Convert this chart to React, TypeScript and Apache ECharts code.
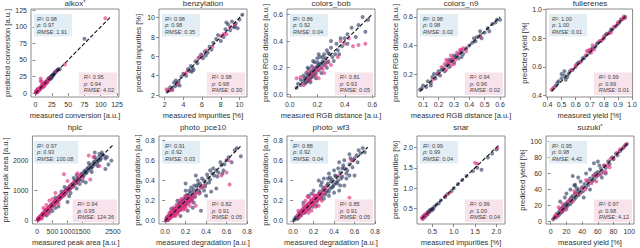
import React, { useEffect, useRef } from "react";
import * as echarts from "echarts";

type Pt = [number, number];

const FONT = "'Liberation Sans', Arial, sans-serif";
const COL_LEFT = [31, 159, 287, 417, 546];
const ROW_TOP = [9, 136];
const TITLE_TOP = [-1, 123];
const PW = 88;
const PH = 88;

// ---------- data ----------
const titles = ["alkox", "benzylation", "colors_bob", "colors_n9", "fullerenes", "hplc", "photo_pce10", "photo_wf3", "snar", "suzuki"];
const titleStar = [true, false, false, false, false, false, false, false, false, true];
const xNames = [
  "measured conversion [a.u.]", "measured impurities [%]", "measured RGB distance [a.u.]", "measured RGB distance [a.u.]", "measured yield [%]",
  "measured peak area [a.u.]", "measured degradation [a.u.]", "measured degradation [a.u.]", "measured impurities [%]", "measured yield [%]",
];
const yNames = [
  "predicted conversion [a.u.]", "predicted impurities [%]", "predicted RGB distance [a.u.]", "predicted RGB distance [a.u.]", "predicted yield [%]",
  "predicted peak area [a.u.]", "predicted degradation [a.u.]", "predicted degradation [a.u.]", "predicted impurities [%]", "predicted yield [%]",
];
const xRanges: Pt[] = [[-7, 128], [1.4, 10.8], [-0.02, 0.62], [0.06, 0.632], [0.39, 1.003], [-160, 2700], [-0.06, 0.8], [-0.06, 0.8], [0.14, 2.2], [-6, 106]];
const yRanges: Pt[] = [[-6, 127], [1.8, 10.9], [-0.02, 0.64], [0.04, 0.655], [0.39, 1.003], [-130, 2800], [-0.03, 0.84], [-0.03, 0.84], [0.12, 2.28], [-3, 107]];
const xTicks: number[][] = [
  [0, 25, 50, 75, 100, 125], [2, 4, 6, 8, 10], [0, 0.2, 0.4, 0.6], [0.1, 0.2, 0.3, 0.4, 0.5, 0.6], [0.4, 0.5, 0.6, 0.7, 0.8, 0.9, 1.0],
  [0, 500, 1000, 1500, 2000, 2500], [0, 0.2, 0.4, 0.6, 0.8], [0, 0.2, 0.4, 0.6, 0.8], [0.5, 1.0, 1.5, 2.0], [0, 20, 40, 60, 80, 100],
];
const yTicks: number[][] = [
  [0, 25, 50, 75, 100, 125], [2, 4, 6, 8, 10], [0, 0.2, 0.4, 0.6], [0.2, 0.4, 0.6], [0.4, 0.6, 0.8, 1.0],
  [0, 1000, 2000], [0, 0.2, 0.4, 0.6, 0.8], [0, 0.2, 0.4, 0.6, 0.8], [0.5, 1.0, 1.5, 2.0], [0, 20, 40, 60, 80, 100],
];
const tickDecimals = [0, 0, 1, 1, 1, 0, 1, 1, 1, 0];
const diagonals: Pt[] = [[0, 115], [2.2, 10.3], [0.04, 0.6], [0.08, 0.6], [0.43, 0.95], [0, 2500], [0, 0.75], [0, 0.73], [0.25, 2.05], [3, 98]];

// [R², rho, RMSE]
const trainStats: number[][] = [
  [0.98, 0.97, 1.91], [0.98, 0.98, 0.35], [0.86, 0.92, 0.04], [0.98, 0.98, 0.02], [1.0, 1.0, 0.01],
  [0.97, 0.93, 100.08], [0.91, 0.92, 0.03], [0.88, 0.92, 0.04], [0.99, 0.99, 0.04], [0.95, 0.98, 4.42],
];
const testStats: number[][] = [
  [0.95, 0.94, 4.02], [0.98, 0.98, 0.3], [0.81, 0.93, 0.05], [0.94, 0.96, 0.02], [0.99, 0.99, 0.01],
  [0.94, 0.95, 124.36], [0.82, 0.91, 0.05], [0.85, 0.91, 0.05], [0.99, 1.0, 0.04], [0.97, 0.98, 4.12],
];

const alkoxTrain: Pt[] = [[1,2],[2,1],[3,3],[4,5],[5,4],[6,6],[7,8],[8,7],[10,10],[11,12],[12,11],[14,15],[15,14],[16,17],[18,17],[19,20],[20,22],[22,21],[23,24],[25,26],[26,25],[28,28],[30,31],[33,34],[37,36],[75,82],[2,4],[9,9],[13,13],[17,16],[21,23],[24,22],[1,1],[3,4],[5,5],[6,7],[8,8],[10,11],[12,12],[13,14],[15,16],[17,18],[19,19],[21,21],[23,23],[24,25],[26,27],[27,28],[29,30],[31,32],[34,35],[35,36]];
const alkoxTest: Pt[] = [[0.5,1],[1,3],[2,2],[3,1],[4,4],[5,6],[6,5],[7,7],[8,22],[9,17],[10,12],[11,9],[12,14],[13,10],[15,16],[17,15],[19,18],[30,32],[45,43],[107,113],[8,18],[3,6],[14,12],[1,1],[2,3],[4,3],[5,5],[6,7],[7,6],[9,10],[10,9],[12,12],[14,14],[16,15],[18,19],[20,20],[22,23]];

const benzTrain: Pt[] = [[2.3,2.4],[2.6,2.8],[2.8,2.6],[3.0,3.3],[3.1,2.9],[3.2,3.5],[3.3,3.1],[3.5,3.4],[3.8,3.9],[4.0,4.2],[4.3,4.0],[4.5,4.7],[4.7,4.5],[4.8,5.0],[5.0,4.8],[5.1,4.6],[5.3,5.5],[5.5,5.3],[5.7,5.9],[5.9,6.2],[6.1,5.8],[6.3,6.5],[6.4,6.1],[6.6,6.4],[6.8,7.0],[7.0,6.7],[7.2,7.4],[7.5,7.8],[7.7,8.2],[8.0,7.6],[8.3,8.0],[8.5,8.8],[8.8,9.3],[9.0,8.7],[9.2,9.6],[9.4,9.0],[9.6,9.4],[9.8,8.9],[10.0,9.8],[10.3,10.3],[8.6,9.5],[9.5,9.1],[3.6,3.0],[2.5,2.5],[4.9,4.4]];
const benzTest: Pt[] = [[2.2,2.6],[2.4,2.5],[2.8,2.5],[3.4,3.2],[4.1,4.2],[4.4,4.4],[5.6,5.8],[6.0,6.1],[6.5,6.6],[7.1,7.0],[8.0,8.1],[8.3,8.3],[8.6,8.3],[9.0,9.0],[9.5,9.3]];

const bobTrain: Pt[] = [[0.05,0.05],[0.06,0.08],[0.08,0.07],[0.1,0.1],[0.1,0.14],[0.11,0.08],[0.12,0.12],[0.12,0.16],[0.13,0.1],[0.14,0.15],[0.14,0.19],[0.15,0.12],[0.16,0.17],[0.16,0.21],[0.17,0.14],[0.18,0.19],[0.18,0.24],[0.19,0.16],[0.2,0.21],[0.2,0.27],[0.21,0.18],[0.22,0.23],[0.22,0.28],[0.23,0.2],[0.24,0.25],[0.25,0.3],[0.25,0.22],[0.26,0.27],[0.27,0.33],[0.28,0.24],[0.29,0.3],[0.3,0.35],[0.31,0.28],[0.33,0.3],[0.34,0.38],[0.35,0.33],[0.37,0.42],[0.38,0.36],[0.4,0.42],[0.42,0.45],[0.42,0.38],[0.45,0.5],[0.48,0.43],[0.5,0.52],[0.53,0.58],[0.55,0.47],[0.57,0.56],[0.08,0.11],[0.13,0.2],[0.17,0.25],[0.21,0.3],[0.15,0.09],[0.19,0.12],[0.23,0.16],[0.27,0.2],[0.32,0.25],[0.3,0.4],[0.36,0.3],[0.11,0.12],[0.13,0.14],[0.15,0.16],[0.17,0.18],[0.19,0.2],[0.21,0.22],[0.23,0.23],[0.16,0.13],[0.18,0.15],[0.2,0.24],[0.24,0.28],[0.26,0.24],[0.28,0.31],[0.14,0.11],[0.12,0.09]];
const bobTest: Pt[] = [[0.05,0.12],[0.08,0.13],[0.12,0.11],[0.14,0.13],[0.16,0.15],[0.18,0.17],[0.2,0.18],[0.22,0.2],[0.24,0.19],[0.26,0.22],[0.15,0.1],[0.17,0.2],[0.19,0.14],[0.13,0.17],[0.28,0.25],[0.3,0.22],[0.35,0.28],[0.4,0.38],[0.43,0.42],[0.46,0.36],[0.5,0.37],[0.55,0.38],[0.37,0.4],[0.21,0.12],[0.1,0.07],[0.25,0.16]];

const n9Train: Pt[] = [[0.08,0.09],[0.09,0.1],[0.1,0.12],[0.12,0.11],[0.13,0.15],[0.15,0.14],[0.16,0.18],[0.18,0.17],[0.19,0.2],[0.2,0.22],[0.21,0.19],[0.22,0.23],[0.23,0.24],[0.24,0.22],[0.25,0.26],[0.26,0.27],[0.27,0.25],[0.28,0.29],[0.29,0.3],[0.3,0.28],[0.31,0.32],[0.32,0.33],[0.33,0.31],[0.34,0.35],[0.35,0.36],[0.36,0.34],[0.38,0.38],[0.4,0.4],[0.42,0.42],[0.44,0.43],[0.45,0.46],[0.47,0.47],[0.48,0.45],[0.5,0.49],[0.52,0.52],[0.53,0.5],[0.55,0.55],[0.57,0.56],[0.58,0.58],[0.6,0.58],[0.15,0.12],[0.27,0.3],[0.35,0.32],[0.3,0.33],[0.47,0.5],[0.43,0.45],[0.17,0.2]];
const n9Test: Pt[] = [[0.16,0.16],[0.2,0.2],[0.22,0.25],[0.24,0.27],[0.25,0.23],[0.26,0.29],[0.27,0.28],[0.28,0.26],[0.29,0.31],[0.3,0.27],[0.31,0.3],[0.32,0.35],[0.33,0.34],[0.34,0.37],[0.35,0.37],[0.36,0.38],[0.38,0.36],[0.47,0.46],[0.25,0.3],[0.28,0.33]];

const fullTrain: Pt[] = [[0.44,0.45],[0.46,0.47],[0.48,0.5],[0.5,0.52],[0.52,0.54],[0.5,0.55],[0.53,0.51],[0.55,0.55],[0.56,0.57],[0.58,0.58],[0.6,0.6],[0.61,0.62],[0.62,0.63],[0.64,0.64],[0.65,0.66],[0.66,0.66],[0.68,0.68],[0.7,0.7],[0.71,0.72],[0.72,0.73],[0.74,0.74],[0.75,0.76],[0.76,0.77],[0.78,0.78],[0.8,0.8],[0.81,0.82],[0.82,0.83],[0.84,0.84],[0.85,0.86],[0.86,0.86],[0.88,0.88],[0.9,0.9],[0.91,0.91],[0.92,0.93],[0.94,0.94],[0.95,0.95],[0.52,0.57],[0.54,0.53],[0.47,0.49]];
const fullTest: Pt[] = [[0.43,0.44],[0.45,0.46],[0.57,0.58],[0.6,0.61],[0.63,0.63],[0.67,0.68],[0.69,0.71],[0.7,0.72],[0.71,0.7],[0.73,0.72],[0.77,0.78],[0.79,0.79],[0.8,0.81],[0.83,0.83],[0.85,0.84],[0.87,0.88],[0.89,0.89],[0.9,0.91],[0.93,0.93],[0.94,0.95],[0.95,0.94],[0.68,0.71],[0.72,0.75]];

const hplcTrain: Pt[] = [[20,30],[40,10],[60,80],[80,50],[100,120],[120,90],[150,160],[170,200],[200,180],[230,250],[250,210],[280,300],[300,330],[330,290],[360,380],[400,420],[420,380],[450,500],[480,460],[500,540],[530,490],[560,600],[600,580],[630,680],[660,620],[700,740],[730,700],[760,820],[800,780],[830,870],[870,840],[900,960],[940,900],[980,1040],[1020,980],[1060,1120],[1100,1060],[1150,1200],[1200,1150],[1250,1320],[1300,1260],[1350,1400],[1400,1360],[1450,1520],[1500,1460],[1550,1620],[1600,1560],[1650,1700],[1700,1660],[1750,1830],[1800,1760],[1850,1900],[1900,1850],[1950,2020],[2000,1960],[2050,2100],[2100,2050],[2150,2180],[2200,2150],[1900,2250],[2350,1850],[2450,1980],[2250,1700],[1600,1250],[1300,1050],[1050,800],[700,450],[500,300],[2050,2200],[1700,1900],[1200,1400],[900,1100],[1000,600],[1400,1200],[800,950],[2250,2050],[600,750],[300,150],[1400,600],[50,60],[90,100],[140,120],[180,220],[210,190],[260,280],[310,350],[340,310],[380,420],[440,420],[470,520],[520,560],[580,540],[620,660],[680,650],[720,780],[780,740],[820,880],[880,830],[950,1000],[1000,1050],[1080,1040],[1130,1180],[1180,1120],[1230,1280],[1280,1230],[1330,1380],[1380,1330],[1480,1550],[1530,1480],[1580,1650],[1630,1580],[1680,1750],[1780,1720],[1830,1800],[1880,1950],[1980,1920],[2080,2000],[2130,2250],[2300,2100],[1100,900],[1500,1300],[1800,1600],[2000,1800],[600,400],[400,250],[1300,1500],[1900,2100]];
const hplcTest: Pt[] = [[10,20],[30,60],[50,30],[70,100],[90,70],[110,140],[130,110],[160,190],[190,160],[220,260],[260,230],[290,330],[320,280],[350,400],[390,360],[430,470],[470,430],[510,560],[550,520],[590,640],[640,600],[690,740],[740,700],[790,850],[850,800],[900,950],[950,900],[1000,1060],[1050,1000],[1100,1150],[1150,1100],[1200,1260],[1300,1350],[1400,1450],[1500,1400],[200,400],[400,650],[600,900],[300,500],[880,1530],[1330,1560],[1750,1350],[1700,2150],[2050,1800],[1850,2100],[1000,1300],[150,50],[700,550],[20,10],[40,50],[60,40],[80,90],[100,80],[120,130],[140,150],[170,150],[200,220],[240,200],[270,300],[310,300],[340,370],[370,340],[410,440],[450,420],[490,530],[530,500],[570,610],[620,580],[670,700],[720,690],[770,800],[820,790],[870,920],[930,880],[980,1020],[1250,1200],[1350,1300],[1450,1500],[250,350],[500,700],[350,200]];

const pceTrain: Pt[] = [[0.01,0.01],[0.02,0.04],[0.03,0.02],[0.04,0.06],[0.05,0.03],[0.06,0.07],[0.07,0.05],[0.08,0.1],[0.09,0.08],[0.1,0.12],[0.11,0.09],[0.12,0.14],[0.13,0.11],[0.14,0.16],[0.15,0.13],[0.16,0.18],[0.17,0.15],[0.18,0.2],[0.19,0.17],[0.2,0.22],[0.21,0.19],[0.22,0.25],[0.23,0.21],[0.24,0.27],[0.25,0.23],[0.26,0.29],[0.27,0.25],[0.28,0.31],[0.3,0.28],[0.31,0.34],[0.33,0.3],[0.34,0.37],[0.36,0.33],[0.38,0.4],[0.4,0.37],[0.42,0.43],[0.44,0.41],[0.46,0.47],[0.48,0.45],[0.5,0.5],[0.52,0.48],[0.55,0.55],[0.58,0.56],[0.62,0.63],[0.74,0.64],[0.68,0.7],[0.35,0.1],[0.5,0.32],[0.2,0.37],[0.45,0.29],[0.3,0.45],[0.2,0.3],[0.15,0.05],[0.4,0.25],[0.12,0.2],[0.06,0.12],[0.28,0.18],[0.38,0.3],[0.56,0.47],[0.22,0.1],[0.32,0.4],[0.44,0.5],[0.015,0.03],[0.03,0.01],[0.045,0.05],[0.055,0.08],[0.075,0.07],[0.085,0.12],[0.095,0.06],[0.105,0.1],[0.115,0.14],[0.125,0.09],[0.135,0.17],[0.145,0.11],[0.155,0.19],[0.165,0.13],[0.175,0.21],[0.185,0.14],[0.195,0.24],[0.205,0.16],[0.215,0.26],[0.225,0.18],[0.235,0.3],[0.245,0.2],[0.255,0.33],[0.265,0.21],[0.285,0.35],[0.295,0.24],[0.32,0.36],[0.34,0.28],[0.36,0.42],[0.39,0.34],[0.41,0.46],[0.43,0.38],[0.47,0.52],[0.51,0.44],[0.54,0.58],[0.57,0.5],[0.6,0.6],[0.65,0.58],[0.7,0.72],[0.27,0.13]];
const pceTest: Pt[] = [[0.01,0.02],[0.02,0.01],[0.03,0.05],[0.04,0.03],[0.05,0.06],[0.06,0.04],[0.07,0.08],[0.08,0.06],[0.09,0.1],[0.1,0.08],[0.11,0.12],[0.12,0.1],[0.13,0.14],[0.14,0.12],[0.15,0.16],[0.16,0.14],[0.17,0.18],[0.18,0.16],[0.19,0.2],[0.2,0.17],[0.21,0.22],[0.22,0.2],[0.23,0.24],[0.25,0.22],[0.27,0.26],[0.29,0.27],[0.31,0.3],[0.06,0.1],[0.1,0.05],[0.14,0.2],[0.18,0.11],[0.24,0.15],[0.3,0.15],[0.63,0.36],[0.6,0.48],[0.62,0.6],[0.55,0.45],[0.04,0.08],[0.12,0.07],[0.2,0.25],[0.35,0.33],[0.16,0.22],[0.08,0.13],[0.015,0.005],[0.025,0.03],[0.035,0.02],[0.045,0.05],[0.055,0.04],[0.065,0.07],[0.075,0.05],[0.085,0.09],[0.095,0.07],[0.105,0.11],[0.115,0.08],[0.125,0.13],[0.135,0.1],[0.145,0.15],[0.155,0.11],[0.165,0.17],[0.175,0.13],[0.185,0.19],[0.195,0.14],[0.215,0.18],[0.235,0.21],[0.255,0.24],[0.275,0.23],[0.11,0.16],[0.2,0.12],[0.26,0.19],[0.33,0.27],[0.38,0.35]];

const wf3Train: Pt[] = [[0.01,0.01],[0.03,0.04],[0.05,0.03],[0.06,0.08],[0.08,0.06],[0.1,0.12],[0.12,0.09],[0.14,0.16],[0.16,0.13],[0.18,0.2],[0.2,0.17],[0.22,0.25],[0.24,0.21],[0.26,0.29],[0.28,0.25],[0.3,0.33],[0.32,0.28],[0.34,0.37],[0.36,0.32],[0.38,0.41],[0.4,0.36],[0.42,0.44],[0.44,0.4],[0.46,0.48],[0.48,0.44],[0.5,0.52],[0.52,0.47],[0.55,0.56],[0.58,0.53],[0.6,0.62],[0.63,0.58],[0.66,0.67],[0.68,0.72],[0.7,0.68],[0.25,0.4],[0.3,0.42],[0.35,0.47],[0.4,0.5],[0.45,0.58],[0.5,0.6],[0.55,0.66],[0.2,0.3],[0.15,0.25],[0.35,0.25],[0.45,0.3],[0.5,0.35],[0.6,0.45],[0.4,0.28],[0.28,0.38],[0.33,0.3],[0.42,0.38],[0.48,0.52],[0.38,0.33],[0.23,0.15],[0.1,0.18],[0.3,0.22],[0.52,0.42],[0.58,0.6],[0.62,0.65],[0.18,0.27],[0.36,0.43],[0.02,0.03],[0.04,0.02],[0.07,0.07],[0.09,0.1],[0.11,0.08],[0.13,0.14],[0.15,0.11],[0.17,0.18],[0.19,0.14],[0.21,0.22],[0.23,0.19],[0.25,0.27],[0.27,0.22],[0.29,0.31],[0.31,0.26],[0.33,0.35],[0.35,0.29],[0.37,0.39],[0.39,0.34],[0.41,0.45],[0.43,0.37],[0.47,0.42],[0.49,0.55],[0.53,0.5],[0.56,0.62],[0.64,0.7],[0.44,0.52],[0.27,0.35],[0.34,0.42],[0.46,0.35],[0.55,0.45]];
const wf3Test: Pt[] = [[0.04,0.05],[0.06,0.04],[0.07,0.09],[0.08,0.07],[0.09,0.11],[0.1,0.08],[0.11,0.13],[0.12,0.1],[0.13,0.15],[0.14,0.12],[0.15,0.17],[0.16,0.14],[0.17,0.19],[0.18,0.16],[0.19,0.21],[0.2,0.18],[0.21,0.23],[0.22,0.2],[0.23,0.24],[0.24,0.22],[0.25,0.26],[0.26,0.23],[0.28,0.27],[0.3,0.28],[0.12,0.2],[0.15,0.08],[0.2,0.26],[0.25,0.15],[0.1,0.15],[0.18,0.1],[0.57,0.6],[0.55,0.23],[0.45,0.45],[0.32,0.33],[0.28,0.2],[0.05,0.1],[0.14,0.24],[0.05,0.07],[0.07,0.05],[0.08,0.1],[0.1,0.1],[0.11,0.09],[0.12,0.14],[0.13,0.11],[0.14,0.16],[0.15,0.13],[0.16,0.18],[0.17,0.15],[0.18,0.2],[0.19,0.17],[0.2,0.22],[0.21,0.18],[0.22,0.24],[0.23,0.2],[0.24,0.25],[0.26,0.27],[0.27,0.24],[0.16,0.23],[0.22,0.14],[0.29,0.3]];

const snarTrain: Pt[] = [[0.3,0.32],[0.35,0.36],[0.4,0.42],[0.42,0.4],[0.45,0.47],[0.48,0.45],[0.5,0.5],[0.52,0.48],[0.55,0.55],[0.6,0.6],[0.65,0.63],[0.7,0.7],[0.8,0.78],[0.85,0.85],[0.95,0.93],[1.0,1.0],[1.1,1.1],[1.2,1.2],[1.3,1.3],[1.45,1.42],[1.55,1.5],[1.65,1.45],[1.8,1.75],[1.9,1.85],[2.0,1.95],[0.28,0.26],[0.38,0.35],[0.44,0.44],[0.33,0.3]];
const snarTest: Pt[] = [[0.25,0.27],[0.27,0.3],[0.3,0.28],[0.32,0.35],[0.35,0.33],[0.38,0.4],[0.8,0.8],[0.9,0.88],[1.5,1.62],[1.55,1.6],[2.02,1.98],[0.4,0.38],[0.27,0.24]];

const suzukiTrain: Pt[] = [[3,3],[5,6],[7,5],[8,10],[10,8],[11,13],[12,10],[13,16],[14,12],[15,18],[16,14],[17,20],[18,16],[19,22],[20,18],[21,24],[22,20],[24,27],[25,22],[26,30],[27,25],[28,32],[30,28],[31,35],[32,30],[34,38],[35,33],[36,40],[38,36],[40,43],[41,38],[43,47],[45,43],[47,50],[48,46],[50,54],[52,50],[54,57],[55,52],[57,60],[58,56],[60,62],[62,59],[64,66],[66,63],[68,70],[70,67],[73,75],[75,72],[78,80],[80,78],[83,85],[85,83],[88,88],[90,90],[93,93],[95,95],[97,97],[28,57],[35,55],[31,46],[55,73],[45,60],[30,45],[50,65],[20,35],[60,75],[25,40],[42,30],[50,40],[65,55],[12,25],[18,30],[38,50],[70,60],[33,42],[62,70]];
const suzukiTest: Pt[] = [[4,4],[6,8],[9,7],[12,15],[14,12],[16,18],[20,15],[22,25],[25,28],[28,25],[32,35],[36,34],[40,42],[44,40],[48,50],[52,48],[55,58],[60,58],[65,60],[68,70],[72,70],[76,78],[80,80],[85,86],[88,90],[92,92],[95,96],[70,62],[75,68],[15,22],[30,38],[58,50],[10,18],[45,52]];

const trainSets: Pt[][] = [alkoxTrain, benzTrain, bobTrain, n9Train, fullTrain, hplcTrain, pceTrain, wf3Train, snarTrain, suzukiTrain];
const testSets: Pt[][] = [alkoxTest, benzTest, bobTest, n9Test, fullTest, hplcTest, pceTest, wf3Test, snarTest, suzukiTest];

// ---------- styles ----------
const DARK = "rgba(36,50,90,0.75)";
const PINK = "rgba(226,48,128,0.8)";
const BLUE_BOX = "#e3eef4";
const PINK_BOX = "#f8e3ec";
const TEXT = "#333";

function statText(s: number[]) {
  return `{i|R²}: ${s[0].toFixed(2)}\n{i|ρ}: ${s[1].toFixed(2)}\n{i|RMSE}: ${s[2].toFixed(2)}`;
}

function buildOption() {
  const grid: any[] = [];
  const xAxis: any[] = [];
  const yAxis: any[] = [];
  const series: any[] = [];
  const title: any[] = [];
  const graphic: any[] = [];
  for (let i = 0; i < 10; i++) {
    const r = Math.floor(i / 5);
    const c = i % 5;
    const left = COL_LEFT[c];
    const top = ROW_TOP[r];
    grid.push({ left, top, width: PW, height: PH, show: true, borderColor: "#707070", borderWidth: 0.8, backgroundColor: "transparent" });
    const dec = tickDecimals[i];
    const axisCommon = {
      type: "value",
      gridIndex: i,
      nameLocation: "middle",
      nameTextStyle: { fontSize: 7.5, color: TEXT, fontFamily: FONT },
      axisLine: { show: false },
      splitLine: { show: false },
    };
    const labelCommon = { fontSize: 7, color: TEXT, fontFamily: FONT, margin: 4, showMinLabel: true, showMaxLabel: true, hideOverlap: false, formatter: (v: number) => v.toFixed(dec) };
    xAxis.push({
      ...axisCommon,
      min: xRanges[i][0], max: xRanges[i][1],
      name: xNames[i], nameGap: 14,
      axisTick: { show: true, inside: false, length: 3, lineStyle: { color: "#707070", width: 0.8 }, customValues: xTicks[i] },
      axisLabel: { ...labelCommon, customValues: xTicks[i] },
    });
    yAxis.push({
      ...axisCommon,
      min: yRanges[i][0], max: yRanges[i][1],
      name: yNames[i], nameGap: 17,
      axisTick: { show: true, inside: false, length: 3, lineStyle: { color: "#707070", width: 0.8 }, customValues: yTicks[i] },
      axisLabel: { ...labelCommon, customValues: yTicks[i] },
    });
    series.push({
      type: "scatter", xAxisIndex: i, yAxisIndex: i, data: trainSets[i], symbolSize: 4,
      itemStyle: { color: DARK }, silent: true,
    });
    series.push({
      type: "scatter", xAxisIndex: i, yAxisIndex: i, data: testSets[i], symbolSize: 4,
      itemStyle: { color: PINK }, silent: true,
    });
    const d = diagonals[i];
    series.push({
      type: "line", xAxisIndex: i, yAxisIndex: i, data: [[d[0], d[0]], [d[1], d[1]]], symbol: "none",
      lineStyle: { color: "#111", width: 1.1, type: [4, 2] }, silent: true, z: 5,
    });
    title.push({
      text: titles[i] + (titleStar[i] ? "{s|*}" : ""),
      left: left + PW / 2, top: TITLE_TOP[r], textAlign: "center",
      textStyle: { fontSize: 8, color: TEXT, fontWeight: "normal", fontFamily: FONT, rich: { s: { fontSize: 6, verticalAlign: "top", color: TEXT, fontFamily: FONT } } },
      padding: 0,
    });
    const rich = { i: { fontStyle: "italic", fontSize: 5.6, fill: "#444", fontFamily: FONT } };
    graphic.push({
      type: "text", left: left + 3, top: top + 5, z: 100,
      style: { text: statText(trainStats[i]), rich, fontSize: 5.6, lineHeight: 6.2, fill: "#444", fontFamily: FONT, backgroundColor: BLUE_BOX, padding: [2, 5, 2, 3], align: "left" },
    });
    graphic.push({
      type: "text", right: 640 - (left + PW - 2), bottom: 248 - (top + PH - 2), z: 100,
      style: { text: statText(testStats[i]), rich, fontSize: 5.6, lineHeight: 6.2, fill: "#444", fontFamily: FONT, backgroundColor: PINK_BOX, padding: [2, 3, 2, 5], align: "right" },
    });
  }
  return { animation: false, backgroundColor: "#fff", grid, xAxis, yAxis, series, title, graphic };
}

export default function App() {
  const ref = useRef<HTMLDivElement>(null);
  useEffect(() => {
    if (!ref.current) return;
    const chart = echarts.init(ref.current, undefined, { renderer: "svg" });
    chart.setOption(buildOption() as any);
    return () => chart.dispose();
  }, []);
  return <div ref={ref} style={{ position: "fixed", left: 0, top: 0, width: 640, height: 248 }} />;
}
